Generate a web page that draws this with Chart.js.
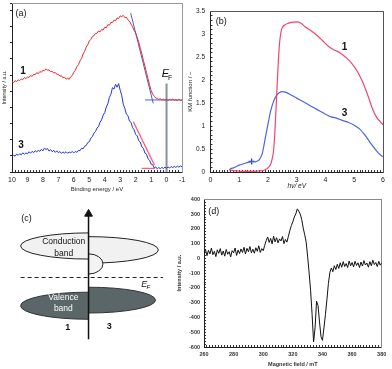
<!DOCTYPE html>
<html>
<head>
<meta charset="utf-8">
<script src="https://cdn.jsdelivr.net/npm/chart.js@4.4.1/dist/chart.umd.min.js"></script>
<style>
  html, body { margin: 0; padding: 0; background: #fff; }
  body { position: relative; width: 392px; height: 369px; overflow: hidden; }
  canvas { position: absolute; }
  #chartA { left: 0; top: 0; }
  #chartB { left: 185px; top: 0; }
  #chartC { left: 0; top: 200px; }
  #chartD { left: 175px; top: 190px; }
</style>
</head>
<body>
<canvas id="chartA" width="195" height="197"></canvas>
<canvas id="chartB" width="207" height="197"></canvas>
<canvas id="chartC" width="195" height="169"></canvas>
<canvas id="chartD" width="217" height="179"></canvas>
<script>
// --- (a) valence band spectra: binding energy 10 -> -1 eV, 0.1 eV steps ---
const bindingEnergy = Array.from({ length: 111 }, (_, i) => +(10 - i * 0.1).toFixed(1));
const spectrum1 = [
  52.5, 52.0, 53.1, 52.6, 53.6, 53.2, 54.1, 53.8, 54.9, 54.3,
  55.3, 55.0, 56.1, 55.6, 56.8, 56.6, 57.8, 57.2, 58.4, 58.0,
  59.2, 58.9, 59.9, 59.2, 59.4, 58.4, 58.6, 57.6, 57.9, 56.8,
  56.9, 55.7, 56.0, 54.8, 55.2, 54.0, 54.6, 53.9, 55.4, 56.1,
  58.0, 59.2, 61.3, 62.4, 64.6, 66.0, 68.6, 70.2, 72.6, 74.0,
  76.2, 77.1, 78.9, 79.2, 80.6, 80.7, 82.0, 81.6, 82.9, 82.6,
  84.2, 83.9, 85.7, 85.4, 87.0, 86.9, 88.4, 88.0, 89.6, 89.3,
  90.8, 90.4, 91.1, 89.8, 90.0, 88.5, 87.8, 86.0, 84.6, 82.4,
  80.8, 78.2, 75.6, 72.0, 68.8, 65.0, 61.6, 57.9, 54.3, 50.7,
  47.5, 45.4, 44.1, 43.0, 42.9, 42.2, 42.6, 41.8, 42.4, 41.7,
  42.3, 41.6, 42.2, 41.8, 42.5, 41.7, 42.1, 41.5, 42.3, 41.6,
  41.9
];
const spectrum3 = [
  8.9, 9.8, 9.2, 10.4, 9.7, 10.6, 10.0, 11.2, 10.3, 11.1,
  10.6, 11.8, 10.9, 12.0, 11.3, 12.4, 11.6, 12.7, 12.0, 13.2,
  12.3, 13.9, 13.1, 13.6, 12.2, 13.0, 11.8, 12.6, 11.4, 12.3,
  11.2, 11.9, 10.8, 11.7, 11.0, 11.8, 10.9, 11.6, 11.2, 11.9,
  11.1, 12.0, 11.4, 12.6, 12.4, 13.8, 13.5, 15.0, 15.4, 17.1,
  17.6, 19.7, 20.6, 22.6, 23.5, 25.6, 26.4, 29.0, 30.4, 33.1,
  34.5, 37.8, 39.6, 43.4, 45.2, 49.1, 48.2, 51.0, 49.3, 51.4,
  47.6, 44.6, 39.4, 37.0, 33.6, 32.8, 29.6, 28.9, 25.8, 24.6,
  21.9, 21.0, 18.2, 17.4, 14.6, 13.8, 11.0, 10.4, 7.7, 6.9,
  4.6, 4.3, 2.4, 3.0, 1.8, 2.6, 1.9, 2.7, 2.0, 2.8,
  2.1, 2.9, 2.3, 3.2, 2.5, 3.3, 2.6, 3.4, 2.8, 3.5,
  3.0
];
// onset fits (energy, intensity)
const edgeFit1E = [2.32, 0.86], edgeFit1I = [92.4, 39.9];
const baseFit1E = [1.39, -1], baseFit1I = [41.9, 41.9];
const edgeFit3E = [2.15, 0.78], edgeFit3I = [29.3, 4.0];
const baseFit3E = [1.61, 0.75], baseFit3I = [2.1, 2.1];
const fermiE = [0, 0], fermiI = [51.5, 0];
const energyTicks = [10, 9, 8, 7, 6, 5, 4, 3, 2, 1, 0, -1];

// --- (b) Kubelka-Munk spectra ---
const photonEnergy1 = [0.65, 0.8, 1.0, 1.2, 1.4, 1.6, 1.8, 1.9, 2.0, 2.1,
  2.15, 2.2, 2.25, 2.3, 2.35, 2.4, 2.45, 2.5, 2.6, 2.7,
  2.8, 3.0, 3.15, 3.3, 3.5, 3.7, 3.9, 4.1, 4.3, 4.5,
  4.7, 4.9, 5.1, 5.3, 5.5, 5.65, 5.8, 5.9, 6.0];
const km1 = [0.05, 0.03, 0.02, 0.015, 0.015, 0.02, 0.03, 0.05, 0.09, 0.18,
  0.3, 0.5, 1.0, 1.65, 2.3, 2.8, 3.05, 3.15, 3.21, 3.24,
  3.26, 3.27, 3.24, 3.16, 3.08, 2.98, 2.86, 2.74, 2.66, 2.6,
  2.5, 2.38, 2.2, 1.95, 1.62, 1.35, 1.17, 1.1, 1.03];
const photonEnergy3 = [0.65, 0.7, 0.8, 0.9, 1.0, 1.1, 1.2, 1.3, 1.4, 1.5,
  1.6, 1.7, 1.8, 1.85, 1.9, 2.0, 2.1, 2.2, 2.3, 2.4,
  2.5, 2.6, 2.8, 3.0, 3.2, 3.4, 3.6, 3.8, 4.0, 4.2,
  4.4, 4.6, 4.8, 5.0, 5.2, 5.4, 5.6, 5.8, 5.9, 6.0];
const km3 = [0.04, 0.07, 0.09, 0.12, 0.15, 0.17, 0.19, 0.21, 0.22, 0.22,
  0.23, 0.27, 0.4, 0.55, 0.72, 1.05, 1.35, 1.55, 1.67, 1.73,
  1.75, 1.74, 1.68, 1.61, 1.54, 1.47, 1.4, 1.33, 1.26, 1.2,
  1.17, 1.12, 1.08, 1.02, 0.93, 0.78, 0.6, 0.44, 0.38, 0.33];
const markerE = [1.43], markerKM = [0.23];

// --- (c) band scheme: sample 1 left of the energy axis, sample 3 right ---
const sampleSide = [-1, 1];
const cbCentre = [125.7, 121.5], cbHalfHeight = [14, 14.2], cbExtent = [72, 74];
const vbCentre = [61.8, 67.8], vbHalfHeight = [14.5, 13.8], vbExtent = [72, 71];
const gapState = [106.5, 10.8, 15.3]; // sample 3: centre, half height, extent
const fermiLevel = 92;
const energyAxis = [26, 158];

// --- (d) EPR spectrum, 260 -> 380 mT, 1 mT steps ---
const field = Array.from({ length: 121 }, (_, i) => 260 + i);
const epr = [
  35, 62, 18, 55, 30, 70, 25, 48, 12, 58,
  34, 66, 22, 50, 15, 60, 28, 45, 10, 52,
  38, 70, 20, 56, 32, 64, 40, 75, 30, 68,
  45, 80, 38, 62, 35, 72, 48, 85, 40, 66,
  52, 88, 120, 145, 108, 135, 98, 150, 112, 140,
  105, 132, 118, 148, 100, 128, 110, 150, 190, 222,
  248, 280, 302, 335, 320, 300, 262, 205, 160, 110,
  10, -100, -220, -380, -565, -470, -290, -320, -430, -530,
  -555, -470, -380, -280, -170, -95, -65, -90, -50, -75,
  -40, -68, -30, -60, -22, -55, -35, -62, -18, -50,
  -28, -58, -20, -48, -30, -62, -25, -52, -15, -45,
  -32, -60, -22, -50, -12, -42, -28, -55, -20, -46,
  -30
];

const FONT = "'Liberation Sans', Arial, sans-serif";
Chart.defaults.font.family = FONT;
Chart.defaults.color = '#222';

const pts = (xs, ys) => xs.map((v, i) => ({ x: v, y: ys[i] }));
const near = (v, step) => Math.abs(v / step - Math.round(v / step)) < 1e-6;

// text drawn in data coordinates
function labelPlugin(id, items) {
    return {
        id: id,
        afterDatasetsDraw(chart) {
            const { ctx, scales } = chart;
            ctx.save();
            items.forEach(t => {
                ctx.font = t.font;
                ctx.fillStyle = t.color || '#111';
                ctx.textAlign = t.align || 'center';
                ctx.textBaseline = 'middle';
                ctx.fillText(t.text, scales.x.getPixelForValue(t.x), scales.y.getPixelForValue(t.y));
            });
            ctx.restore();
        }
    };
}

// plain frame line on top/right
const frameAxis = (position, size, color) => ({
    position: position,
    ticks: { display: false },
    grid: { display: false },
    border: { color: color, width: 1 },
    afterFit: s => { if (position === 'top') s.height = size; else s.width = size; }
});

const line = (data, color, width, extra) => Object.assign({
    data: data, showLine: true, borderColor: color, backgroundColor: color,
    borderWidth: width, pointRadius: 0, tension: 0
}, extra || {});

const baseOptions = {
    responsive: false,
    animation: false,
    devicePixelRatio: 1,
    events: [],
    layout: { padding: 0 },
    plugins: { legend: { display: false }, tooltip: { enabled: false } }
};

// ---------- (a) ----------
new Chart(document.getElementById('chartA'), {
    type: 'scatter',
    data: {
        datasets: [
            line(pts(bindingEnergy, spectrum1), '#f02828', 1),
            line(pts(bindingEnergy, spectrum3), '#2236d8', 1),
            line(pts(edgeFit1E, edgeFit1I), '#3f5fe0', 1),
            line(pts(baseFit1E, baseFit1I), '#3f5fe0', 1),
            line(pts(edgeFit3E, edgeFit3I), '#ff5a78', 1.2),
            line(pts(baseFit3E, baseFit3I), '#ff5a78', 1.2),
            line(pts(fermiE, fermiI), '#8890a2', 2)
        ]
    },
    options: Object.assign({}, baseOptions, {
        scales: {
            x: {
                type: 'linear', reverse: true, min: -1, max: 10,
                ticks: { stepSize: 0.2, autoSkip: false, maxRotation: 0, padding: 6, font: { size: 7 },
                         callback: v => (near(v, 1) && energyTicks.includes(Math.round(v))) ? Math.round(v) : '' },
                grid: { drawOnChartArea: false, tickLength: -2, color: '#333' },
                border: { color: '#222' },
                title: { display: true, text: 'Binding energy / eV', font: { size: 6 }, padding: { top: 0, bottom: 4 } },
                afterFit: s => { s.height = 25; }
            },
            y: {
                min: 0, max: 98.3,
                ticks: { stepSize: 9.4, callback: () => '', padding: 0, font: { size: 1 } },
                grid: { drawOnChartArea: false, tickLength: 2, color: '#222' },
                border: { color: '#222' },
                title: { display: true, text: 'Intensity / a.u.', font: { size: 5.5 }, padding: { top: 1.5, bottom: 0 } },
                afterFit: s => { s.width = 12; }
            },
            xTop: frameAxis('top', 3, '#999'),
            yRight: frameAxis('right', 13, '#999')
        }
    }),
    plugins: [labelPlugin('labelsA', [
        { text: '(a)', x: 9.42, y: 91.9, font: '9px ' + FONT },
        { text: '1', x: 9.29, y: 58.7, font: 'bold 10px ' + FONT },
        { text: '3', x: 9.42, y: 15.3, font: 'bold 10px ' + FONT },
        { text: 'E', x: 0.07, y: 57, font: 'italic 11px ' + FONT },
        { text: 'F', x: -0.24, y: 54.8, font: '7px ' + FONT }
    ])]
});

// ---------- (b) ----------
new Chart(document.getElementById('chartB'), {
    type: 'scatter',
    data: {
        datasets: [
            line(pts(photonEnergy1, km1), '#f2456c', 1.2, { cubicInterpolationMode: 'monotone' }),
            line(pts(photonEnergy3, km3), '#4b66da', 1.2, { cubicInterpolationMode: 'monotone' }),
            { data: pts(markerE, markerKM), pointStyle: 'cross', pointRadius: 3, borderWidth: 1.3,
              borderColor: '#2a40c8', showLine: false }
        ]
    },
    options: Object.assign({}, baseOptions, {
        scales: {
            x: {
                min: 0, max: 6,
                ticks: { stepSize: 0.1, autoSkip: false, maxRotation: 0, padding: 6, font: { size: 7 },
                         callback: v => near(v, 1) ? Math.round(v) : '' },
                grid: { drawOnChartArea: false, tickLength: -2, color: '#333' },
                border: { color: '#222' },
                title: { display: true, text: 'hν/ eV', font: { size: 6.5, style: 'italic' }, padding: { top: 0, bottom: 6.5 } },
                afterFit: s => { s.height = 25; }
            },
            y: {
                min: 0, max: 3.5,
                ticks: { stepSize: 0.1, autoSkip: false, padding: 7.5, font: { size: 6.5 },
                         callback: v => near(v, 0.5) ? +(Math.round(v * 2) / 2) : '' },
                grid: { drawOnChartArea: false, tickLength: -2, color: '#333' },
                border: { color: '#222' },
                title: { display: true, text: 'KM function / –', font: { size: 6 }, padding: { top: 1.5, bottom: 0 } },
                afterFit: s => { s.width = 25.5; }
            },
            xTop: frameAxis('top', 4, '#555'),
            yRight: frameAxis('right', 9, '#555')
        }
    }),
    plugins: [labelPlugin('labelsB', [
        { text: '(b)', x: 0.37, y: 3.27, font: '9px ' + FONT },
        { text: '1', x: 4.66, y: 2.71, font: 'bold 10px ' + FONT },
        { text: '3', x: 4.66, y: 1.27, font: 'bold 10px ' + FONT }
    ])]
});

// ---------- (c) band scheme ----------
const bandPlugin = {
    id: 'bands',
    beforeDatasetsDraw(chart) {
        const { ctx, scales: { x, y } } = chart;
        const x0 = x.getPixelForValue(0);
        const halfBand = (side, centre, halfHeight, extent, fill, stroke) => {
            const cy = y.getPixelForValue(centre);
            const ry = Math.abs(y.getPixelForValue(centre + halfHeight) - cy);
            const rx = Math.abs(x.getPixelForValue(extent) - x0);
            ctx.beginPath();
            if (side < 0) ctx.ellipse(x0, cy, rx, ry, 0, Math.PI / 2, Math.PI * 1.5);
            else ctx.ellipse(x0, cy, rx, ry, 0, -Math.PI / 2, Math.PI / 2);
            ctx.closePath();
            ctx.fillStyle = fill;
            ctx.fill();
            ctx.lineWidth = 1;
            ctx.strokeStyle = stroke;
            ctx.stroke();
        };
        ctx.save();
        sampleSide.forEach((side, i) => halfBand(side, cbCentre[i], cbHalfHeight[i], cbExtent[i], '#f1f1f1', '#222'));
        halfBand(1, gapState[0], gapState[1], gapState[2], '#f3f3f3', '#222');
        sampleSide.forEach((side, i) => halfBand(side, vbCentre[i], vbHalfHeight[i], vbExtent[i], '#5b6669', '#333'));
        ctx.restore();
    }
};

new Chart(document.getElementById('chartC'), {
    type: 'scatter',
    data: {
        datasets: [
            line(pts([-72, 79], [fermiLevel, fermiLevel]), '#222', 1.2, { borderDash: [4, 3] }),
            line(pts([0, 0], energyAxis), '#111', 1.5),
            { data: [{ x: 0, y: energyAxis[1] + 2 }], pointStyle: 'triangle', pointRadius: 4.5,
              backgroundColor: '#111', borderColor: '#111', borderWidth: 1 }
        ]
    },
    options: Object.assign({}, baseOptions, {
        scales: {
            x: { display: false, min: -88, max: 107 },
            y: { display: false, min: 0, max: 169 }
        }
    }),
    plugins: [bandPlugin, labelPlugin('labelsC', [
        { text: '(c)', x: -65.7, y: 155, font: '9px ' + FONT },
        { text: 'Conduction', x: -26.3, y: 130, font: '8.5px ' + FONT },
        { text: 'band', x: -26.3, y: 117, font: '8.5px ' + FONT },
        { text: 'Valence', x: -26.7, y: 70.7, font: '8.5px ' + FONT, color: '#fff' },
        { text: 'band', x: -26.7, y: 59, font: '8.5px ' + FONT, color: '#fff' },
        { text: 'E', x: 59, y: 84.5, font: 'italic 9px ' + FONT },
        { text: 'F', x: 63.5, y: 82, font: 'italic 6px ' + FONT },
        { text: '1', x: -22, y: 39, font: 'bold 9px ' + FONT },
        { text: '3', x: 22, y: 39.7, font: 'bold 9px ' + FONT }
    ])]
});

// ---------- (d) EPR ----------
new Chart(document.getElementById('chartD'), {
    type: 'scatter',
    data: { datasets: [line(pts(field, epr), '#111', 1)] },
    options: Object.assign({}, baseOptions, {
        scales: {
            x: {
                min: 260, max: 380,
                ticks: { stepSize: 2, autoSkip: false, maxRotation: 0, padding: 5.7, font: { size: 5.5, weight: 'bold' },
                         color: '#333', callback: v => near(v, 20) ? Math.round(v) : '' },
                grid: { drawOnChartArea: false, tickLength: -2, color: '#333' },
                border: { color: '#222' },
                title: { display: true, text: 'Magnetic field / mT', font: { size: 5.5, weight: 'bold' }, color: '#333',
                         padding: { top: 0, bottom: 1.7 } },
                afterFit: s => { s.height = 22; }
            },
            y: {
                min: -600, max: 400,
                ticks: { stepSize: 20, autoSkip: false, padding: 6, font: { size: 5.5, weight: 'bold' }, color: '#333',
                         callback: v => near(v, 100) ? Math.round(v) : '' },
                grid: { drawOnChartArea: false, tickLength: -2, color: '#333' },
                border: { color: '#222' },
                title: { display: true, text: 'Intensity / a.u.', font: { size: 5.5, weight: 'bold' }, color: '#333',
                         padding: { top: 1.2, bottom: 0 } },
                afterFit: s => { s.width = 29; }
            },
            xTop: frameAxis('top', 7, '#888'),
            yRight: frameAxis('right', 6, '#888')
        }
    }),
    plugins: [labelPlugin('labelsD', [
        { text: '(d)', x: 266.6, y: 320, font: '9px ' + FONT }
    ])]
});
</script>
</body>
</html>
